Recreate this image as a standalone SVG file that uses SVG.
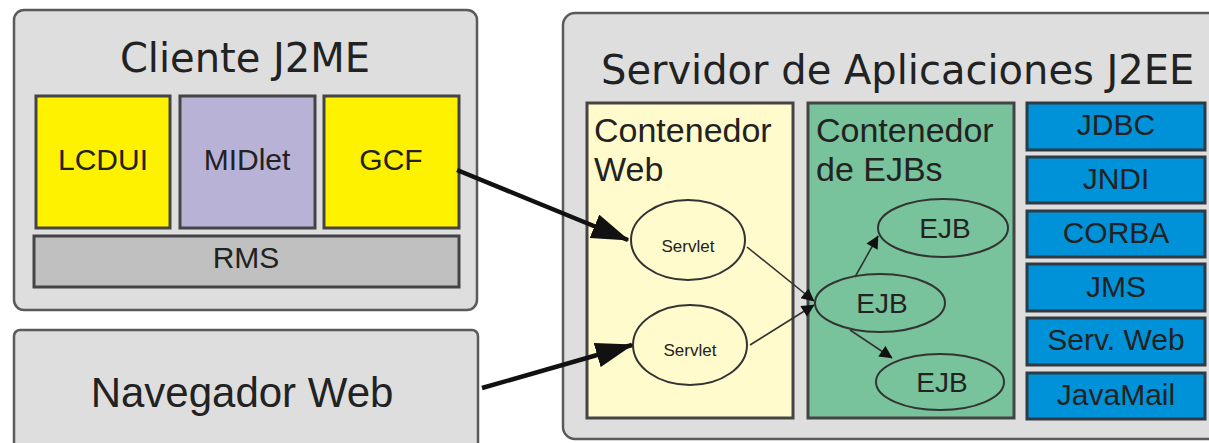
<svg xmlns="http://www.w3.org/2000/svg" width="1209" height="443" viewBox="0 0 1209 443">
<style>
.outer{fill:#dedede;stroke:#5a5a5a;stroke-width:2.5}
.inner{stroke:#444;stroke-width:3}
.t40{font-family:"DejaVu Sans",sans-serif;font-size:40px;fill:#222}
.ts{font-family:"Liberation Sans",Arial,sans-serif;fill:#222}
.ell{fill:none;stroke:#333;stroke-width:2}
.thin{stroke:#333;stroke-width:1.6;fill:none}
.thick{stroke:#111;stroke-width:4.5;fill:none}
.api{fill:#0092d8;stroke:#2e3a44;stroke-width:3}
</style>
<defs>
<marker id="big" viewBox="0 0 12 8" refX="11.5" refY="4" markerWidth="8.4" markerHeight="5.6" markerUnits="strokeWidth" orient="auto">
<path d="M0,0 L12,4 L0,8 z" fill="#111"/>
</marker>
<marker id="small" viewBox="0 0 10 10" refX="9.5" refY="5" markerWidth="9" markerHeight="8" markerUnits="strokeWidth" orient="auto">
<path d="M0,0 L10,5 L0,10 z" fill="#111"/>
</marker>
</defs>
<rect width="1209" height="443" fill="#fff"/>

<g id="cliente">
<rect class="outer" x="14" y="10" width="463" height="300" rx="10"/>
<text class="t40" x="245" y="72" text-anchor="middle">Cliente J2ME</text>
</g>
<g id="lcdui">
<rect class="inner" x="36" y="96" width="134" height="132" fill="#fff200"/>
<text class="ts" x="103" y="170" font-size="30" text-anchor="middle">LCDUI</text>
</g>
<g id="midlet">
<rect class="inner" x="180" y="96" width="135" height="132" fill="#b8b2d6"/>
<text class="ts" x="247" y="170" font-size="30" text-anchor="middle">MIDlet</text>
</g>
<g id="gcf">
<rect class="inner" x="324" y="96" width="135" height="132" fill="#fff200"/>
<text class="ts" x="391" y="170" font-size="30" text-anchor="middle">GCF</text>
</g>
<g id="rms">
<rect class="inner" x="34" y="236" width="425" height="51" fill="#c0c0c0"/>
<text class="ts" x="246" y="268" font-size="30" text-anchor="middle">RMS</text>
</g>

<g id="navegador">
<rect class="outer" x="14" y="330" width="464" height="120" rx="6"/>
<text class="ts" x="242" y="407" font-size="42" text-anchor="middle">Navegador Web</text>
</g>

<g id="servidor">
<rect class="outer" x="563" y="13" width="660" height="426" rx="12"/>
<text class="t40" x="601" y="84">Servidor de Aplicaciones J2EE</text>
</g>
<g id="web">
<rect class="inner" x="587" y="103" width="206" height="315" fill="#fffbcc"/>
<text class="ts" x="594" y="142" font-size="34">Contenedor</text>
<text class="ts" x="594" y="181" font-size="34">Web</text>
</g>
<g id="ejbc">
<rect class="inner" x="808" y="103" width="206" height="315" fill="#78c29c"/>
<text class="ts" x="816" y="142" font-size="34">Contenedor</text>
<text class="ts" x="816" y="181" font-size="34">de EJBs</text>
</g>
<g id="servlet1">
<ellipse class="ell" cx="688" cy="240" rx="57" ry="40"/>
<text class="ts" x="688" y="252" font-size="17" text-anchor="middle">Servlet</text>
</g>
<g id="servlet2">
<ellipse class="ell" cx="690" cy="345" rx="57" ry="40"/>
<text class="ts" x="690" y="356" font-size="17" text-anchor="middle">Servlet</text>
</g>
<g id="ejb1">
<ellipse class="ell" cx="943" cy="228" rx="65" ry="29"/>
<text class="ts" x="945" y="238" font-size="28" text-anchor="middle">EJB</text>
</g>
<g id="ejb2">
<ellipse class="ell" cx="880" cy="303" rx="65" ry="29"/>
<text class="ts" x="882" y="313" font-size="28" text-anchor="middle">EJB</text>
</g>
<g id="ejb3">
<ellipse class="ell" cx="940" cy="382" rx="64" ry="28"/>
<text class="ts" x="942" y="392" font-size="28" text-anchor="middle">EJB</text>
</g>

<g id="jdbc"><rect class="api" x="1027" y="103" width="178" height="47"/><text class="ts" x="1116" y="135" font-size="30" text-anchor="middle">JDBC</text></g>
<g id="jndi"><rect class="api" x="1027" y="157" width="178" height="46"/><text class="ts" x="1116" y="189" font-size="30" text-anchor="middle">JNDI</text></g>
<g id="corba"><rect class="api" x="1027" y="211" width="178" height="46"/><text class="ts" x="1116" y="243" font-size="30" text-anchor="middle">CORBA</text></g>
<g id="jms"><rect class="api" x="1027" y="264" width="178" height="47"/><text class="ts" x="1116" y="297" font-size="30" text-anchor="middle">JMS</text></g>
<g id="servweb"><rect class="api" x="1027" y="318" width="178" height="47"/><text class="ts" x="1116" y="350" font-size="30" text-anchor="middle">Serv. Web</text></g>
<g id="javamail"><rect class="api" x="1027" y="373" width="178" height="46"/><text class="ts" x="1116" y="405" font-size="30" text-anchor="middle">JavaMail</text></g>

<g id="connectors">
<path class="thick" d="M457,170 L628,240" marker-end="url(#big)"/>
<path class="thick" d="M482,388 L632,345" marker-end="url(#big)"/>
<path class="thin" d="M747,247 L814,301" marker-end="url(#small)"/>
<path class="thin" d="M750,345 L814,305" marker-end="url(#small)"/>
<path class="thin" d="M855,277 L878,236" marker-end="url(#small)"/>
<path class="thin" d="M850,330 L892,358" marker-end="url(#small)"/>
</g>
</svg>
